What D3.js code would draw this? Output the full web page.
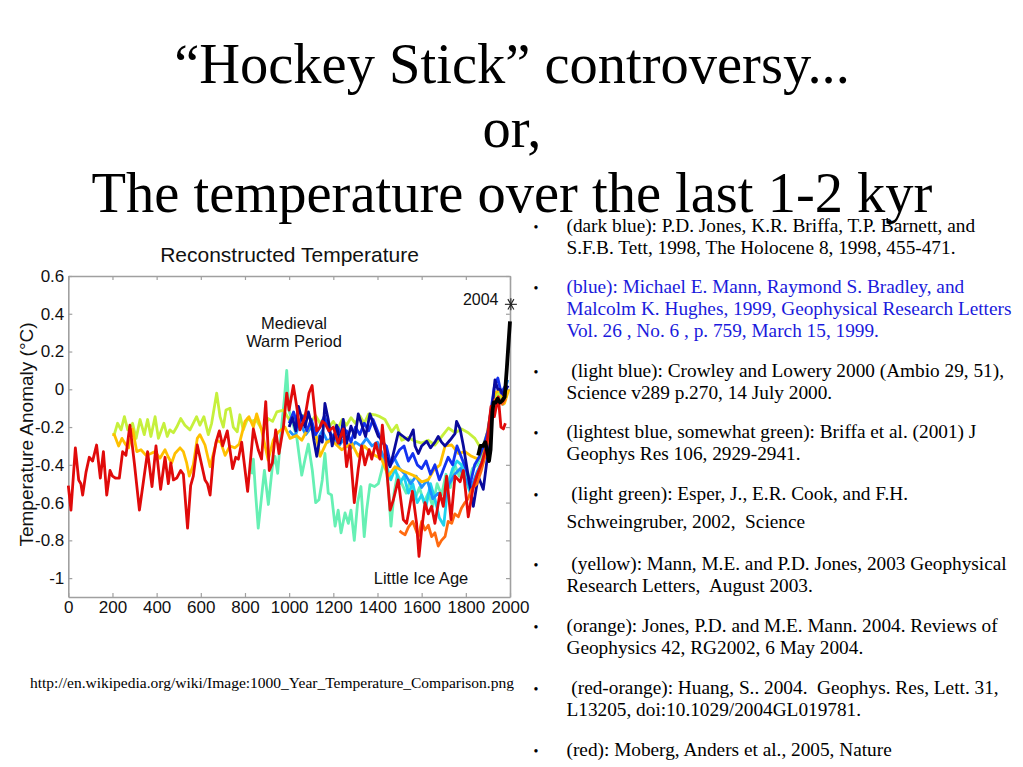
<!DOCTYPE html>
<html>
<head>
<meta charset="utf-8">
<script src="https://cdn.jsdelivr.net/npm/d3@7"></script>
<style>
body { margin: 0; background: #fff; }
svg { display: block; }
</style>
</head>
<body>
<div id="slide"></div>
<script>
//DATA
//Axis ticks
const xTickValues = [0, 200, 400, 600, 800, 1000, 1200, 1400, 1600, 1800, 2000];
const yTickValues = [0.6, 0.4, 0.2, 0, -0.2, -0.4, -0.6, -0.8, -1];

//Reconstructions, [year, anomaly]
const esperLightGreen = [[831,-0.45],[838,-0.37],[848,-0.55],[860,-0.735],[875,-0.57],[888,-0.43],[906,-0.61],[924,-0.41],[936,-0.355],[948,-0.445],[963,-0.23],[978,-0.055],[989,0.10],[999,-0.11],[1014,-0.17],[1034,-0.25],[1057,-0.455],[1072,-0.37],[1087,-0.29],[1105,-0.43],[1120,-0.60],[1135,-0.585],[1150,-0.48],[1162,-0.34],[1177,-0.55],[1192,-0.56],[1208,-0.725],[1222,-0.64],[1235,-0.76],[1253,-0.655],[1268,-0.71],[1280,-0.64],[1295,-0.80],[1310,-0.60],[1325,-0.515],[1340,-0.78],[1351,-0.64],[1366,-0.505],[1386,-0.515],[1404,-0.50],[1419,-0.43],[1434,-0.355],[1449,-0.515],[1461,-0.725],[1475,-0.55],[1490,-0.45],[1510,-0.50],[1530,-0.55],[1550,-0.48],[1570,-0.58],[1590,-0.52],[1610,-0.60],[1630,-0.55],[1650,-0.62],[1670,-0.50],[1690,-0.56],[1710,-0.45],[1730,-0.52],[1750,-0.40],[1770,-0.46],[1790,-0.38],[1810,-0.50],[1830,-0.42],[1850,-0.40],[1870,-0.35],[1890,-0.32],[1910,-0.20],[1930,-0.05],[1950,-0.02],[1970,-0.08],[1992,0.0]];

const briffaLightest = [[1402,-0.30],[1420,-0.35],[1440,-0.40],[1460,-0.48],[1480,-0.42],[1500,-0.50],[1520,-0.46],[1540,-0.55],[1560,-0.50],[1580,-0.60],[1600,-0.56],[1620,-0.62],[1640,-0.50],[1660,-0.58],[1680,-0.68],[1700,-0.72],[1720,-0.50],[1740,-0.42],[1760,-0.38],[1780,-0.40],[1800,-0.48],[1820,-0.55],[1840,-0.48],[1860,-0.42],[1880,-0.36],[1900,-0.28],[1920,-0.10],[1940,-0.02],[1960,-0.06]];

const crowleyLightBlue = [[1000,-0.22],[1025,-0.25],[1050,-0.18],[1075,-0.24],[1100,-0.20],[1125,-0.27],[1150,-0.22],[1175,-0.28],[1200,-0.24],[1225,-0.30],[1250,-0.26],[1275,-0.32],[1300,-0.28],[1325,-0.30],[1350,-0.26],[1375,-0.30],[1400,-0.28],[1425,-0.35],[1450,-0.40],[1475,-0.36],[1500,-0.42],[1525,-0.45],[1550,-0.50],[1575,-0.46],[1600,-0.52],[1625,-0.48],[1650,-0.58],[1675,-0.55],[1700,-0.60],[1725,-0.50],[1750,-0.45],[1775,-0.42],[1800,-0.48],[1825,-0.52],[1850,-0.44],[1875,-0.38],[1900,-0.30],[1925,-0.10],[1950,0.0],[1965,-0.05],[1990,0.05]];

const mannJones2003Yellow = [[200,-0.24],[208,-0.24],[223,-0.18],[239,-0.215],[254,-0.145],[269,-0.215],[291,-0.18],[307,-0.26],[325,-0.16],[344,-0.24],[359,-0.16],[374,-0.25],[393,-0.145],[408,-0.26],[433,-0.18],[448,-0.25],[460,-0.215],[476,-0.23],[491,-0.20],[509,-0.155],[528,-0.19],[551,-0.215],[581,-0.145],[596,-0.19],[614,-0.145],[634,-0.24],[649,-0.18],[672,-0.02],[687,-0.145],[702,-0.20],[714,-0.11],[732,-0.10],[747,-0.20],[765,-0.225],[777,-0.135],[792,-0.215],[812,-0.155],[830,-0.17],[850,-0.16],[883,-0.225],[905,-0.155],[925,-0.17],[944,-0.12],[974,-0.11],[1000,-0.16],[1020,-0.13],[1040,-0.19],[1060,-0.15],[1080,-0.12],[1100,-0.17],[1120,-0.14],[1140,-0.18],[1160,-0.15],[1180,-0.20],[1200,-0.17],[1220,-0.21],[1240,-0.16],[1260,-0.19],[1280,-0.15],[1300,-0.18],[1320,-0.14],[1340,-0.18],[1360,-0.13],[1389,-0.135],[1411,-0.145],[1434,-0.16],[1464,-0.225],[1487,-0.19],[1510,-0.27],[1540,-0.255],[1570,-0.275],[1600,-0.285],[1630,-0.27],[1660,-0.295],[1691,-0.25],[1721,-0.205],[1751,-0.23],[1781,-0.21],[1811,-0.23],[1841,-0.26],[1872,-0.32],[1902,-0.215],[1924,-0.055],[1947,-0.02],[1970,-0.055],[1980,-0.03]];

const jonesMann2004Orange = [[200,-0.24],[208,-0.24],[228,-0.30],[243,-0.26],[258,-0.29],[273,-0.31],[291,-0.21],[310,-0.33],[329,-0.32],[352,-0.35],[374,-0.34],[393,-0.33],[415,-0.365],[438,-0.32],[453,-0.36],[468,-0.39],[483,-0.34],[506,-0.31],[521,-0.33],[536,-0.39],[548,-0.46],[566,-0.40],[584,-0.26],[596,-0.24],[619,-0.295],[642,-0.41],[657,-0.34],[672,-0.27],[690,-0.28],[710,-0.35],[732,-0.30],[755,-0.31],[774,-0.29],[800,-0.17],[818,-0.145],[838,-0.20],[853,-0.13],[875,-0.215],[905,-0.375],[928,-0.27],[951,-0.225],[981,-0.20],[1004,-0.26],[1034,-0.245],[1057,-0.27],[1094,-0.19],[1117,-0.215],[1140,-0.355],[1170,-0.28],[1192,-0.27],[1238,-0.32],[1283,-0.285],[1313,-0.355],[1340,-0.30],[1374,-0.34],[1419,-0.37],[1449,-0.46],[1479,-0.41],[1510,-0.43],[1540,-0.445],[1570,-0.46],[1600,-0.49],[1630,-0.48],[1653,-0.43],[1683,-0.40],[1706,-0.30],[1736,-0.295],[1766,-0.34],[1796,-0.33],[1826,-0.355],[1856,-0.37],[1887,-0.30],[1909,-0.145],[1932,-0.02],[1955,0.0],[1975,-0.075],[1995,0.0]];

const mann1999Blue = [[1000,-0.18],[1020,-0.12],[1040,-0.20],[1060,-0.14],[1080,-0.22],[1100,-0.16],[1120,-0.24],[1140,-0.20],[1160,-0.14],[1180,-0.22],[1200,-0.26],[1220,-0.20],[1240,-0.25],[1260,-0.22],[1280,-0.28],[1300,-0.20],[1320,-0.24],[1340,-0.18],[1360,-0.22],[1380,-0.16],[1400,-0.22],[1420,-0.28],[1440,-0.30],[1460,-0.40],[1480,-0.36],[1500,-0.32],[1520,-0.30],[1540,-0.38],[1560,-0.34],[1580,-0.40],[1600,-0.42],[1620,-0.38],[1640,-0.45],[1660,-0.40],[1680,-0.48],[1700,-0.42],[1720,-0.36],[1740,-0.40],[1760,-0.30],[1780,-0.36],[1800,-0.42],[1820,-0.50],[1840,-0.40],[1860,-0.36],[1880,-0.30],[1900,-0.22],[1915,-0.10],[1930,0.02],[1945,0.06],[1960,-0.02],[1980,0.02]];

const jones1998DarkBlue = [[1000,-0.20],[1015,-0.15],[1030,-0.22],[1042,-0.09],[1057,-0.155],[1072,-0.20],[1087,-0.12],[1100,-0.18],[1112,-0.27],[1125,-0.355],[1140,-0.25],[1150,-0.28],[1162,-0.075],[1177,-0.16],[1195,-0.30],[1215,-0.19],[1230,-0.285],[1245,-0.16],[1260,-0.285],[1280,-0.195],[1298,-0.255],[1313,-0.13],[1331,-0.195],[1346,-0.25],[1366,-0.13],[1381,-0.18],[1404,-0.25],[1426,-0.27],[1442,-0.355],[1457,-0.41],[1472,-0.34],[1494,-0.23],[1517,-0.25],[1540,-0.27],[1562,-0.215],[1570,-0.30],[1585,-0.34],[1600,-0.30],[1623,-0.275],[1640,-0.31],[1660,-0.28],[1675,-0.25],[1690,-0.28],[1706,-0.30],[1728,-0.27],[1751,-0.235],[1758,-0.17],[1774,-0.21],[1789,-0.30],[1811,-0.46],[1834,-0.62],[1856,-0.46],[1879,-0.53],[1902,-0.32],[1920,-0.09],[1932,0.05],[1945,0.0],[1955,0.0],[1970,-0.03],[1991,0.02]];

const huangRedOrange = [[1500,-0.75],[1510,-0.76],[1525,-0.77],[1540,-0.73],[1560,-0.70],[1585,-0.78],[1600,-0.70],[1615,-0.745],[1630,-0.72],[1645,-0.78],[1660,-0.76],[1675,-0.83],[1690,-0.80],[1706,-0.78],[1720,-0.70],[1736,-0.71],[1750,-0.66],[1766,-0.675],[1780,-0.63],[1796,-0.60],[1810,-0.58],[1826,-0.53],[1850,-0.50],[1870,-0.43],[1887,-0.355],[1909,-0.215],[1932,-0.055],[1950,-0.05],[1965,-0.08],[1980,-0.05]];

const mobergRed = [[0,-0.51],[12,-0.64],[32,-0.31],[47,-0.48],[57,-0.50],[65,-0.56],[80,-0.44],[95,-0.36],[110,-0.38],[128,-0.295],[145,-0.47],[159,-0.33],[174,-0.56],[189,-0.43],[200,-0.46],[213,-0.47],[231,-0.47],[246,-0.33],[261,-0.35],[279,-0.19],[299,-0.39],[322,-0.64],[340,-0.49],[359,-0.33],[379,-0.515],[397,-0.30],[418,-0.53],[438,-0.36],[453,-0.50],[464,-0.39],[476,-0.48],[491,-0.47],[509,-0.43],[521,-0.45],[540,-0.735],[554,-0.51],[566,-0.46],[584,-0.295],[600,-0.38],[619,-0.48],[630,-0.50],[642,-0.56],[657,-0.36],[669,-0.28],[684,-0.22],[699,-0.30],[720,-0.22],[732,-0.32],[744,-0.42],[758,-0.36],[770,-0.37],[785,-0.28],[812,-0.54],[838,-0.21],[860,-0.32],[875,-0.37],[894,-0.065],[910,-0.43],[924,-0.39],[939,-0.215],[954,-0.34],[974,-0.20],[989,-0.02],[1000,-0.11],[1019,0.02],[1034,-0.09],[1049,-0.215],[1072,-0.145],[1090,-0.02],[1104,0.02],[1125,-0.22],[1140,-0.20],[1150,-0.17],[1162,-0.18],[1180,-0.22],[1200,-0.20],[1222,-0.285],[1245,-0.21],[1260,-0.41],[1275,-0.30],[1295,-0.60],[1313,-0.42],[1328,-0.30],[1343,-0.40],[1362,-0.32],[1374,-0.37],[1392,-0.285],[1411,-0.37],[1422,-0.19],[1442,-0.43],[1457,-0.64],[1472,-0.585],[1494,-0.48],[1517,-0.69],[1532,-0.71],[1558,-0.54],[1577,-0.71],[1588,-0.885],[1600,-0.745],[1615,-0.60],[1630,-0.66],[1645,-0.62],[1660,-0.71],[1683,-0.55],[1698,-0.62],[1713,-0.46],[1733,-0.69],[1751,-0.46],[1774,-0.49],[1789,-0.43],[1811,-0.675],[1834,-0.515],[1849,-0.46],[1872,-0.39],[1894,-0.30],[1914,-0.09],[1929,-0.145],[1947,-0.04],[1959,-0.20],[1970,-0.21],[1979,-0.18]];

//Instrumental record
const instrumentalBlack = [[1856,-0.35],[1866,-0.30],[1878,-0.30],[1888,-0.28],[1897,-0.33],[1905,-0.38],[1912,-0.32],[1920,-0.12],[1926,-0.07],[1935,-0.07],[1944,-0.05],[1955,-0.07],[1965,-0.06],[1976,-0.04],[1985,0.10],[1993,0.24],[2000,0.36]];

//2004 marker
const marker2004 = [2004, 0.45];

//Draw order (bottom to top) and colours
const seriesList = [
    {data: esperLightGreen, color: "#66f0b4", width: 2.8},
    {data: briffaLightest, color: "#1fd2ee", width: 2.8},
    {data: crowleyLightBlue, color: "#1e90ff", width: 2.8},
    {data: mannJones2003Yellow, color: "#c6f03c", width: 2.8},
    {data: jonesMann2004Orange, color: "#ffc000", width: 2.8},
    {data: mann1999Blue, color: "#1432f0", width: 2.8},
    {data: jones1998DarkBlue, color: "#0a0a9c", width: 2.8},
    {data: huangRedOrange, color: "#ff6a10", width: 2.8},
    {data: mobergRed, color: "#e00a0a", width: 2.8},
    {data: instrumentalBlack, color: "#000000", width: 3.8}
];

//TEXT
const titleLines = ["\u201cHockey Stick\u201d controversy...", "or,", "The temperature over the last 1-2 kyr"];
const chartTitle = "Reconstructed Temperature";
const yAxisLabel = "Temperature Anomaly (\u00b0C)";
const sourceUrl = "http://en.wikipedia.org/wiki/Image:1000_Year_Temperature_Comparison.png";

const citations = [
    {color: "#000", lines: ["(dark blue): P.D. Jones, K.R. Briffa, T.P. Barnett, and", "S.F.B. Tett, 1998, The Holocene 8, 1998, 455-471."]},
    {color: "#1a1adc", lines: ["(blue): Michael E. Mann, Raymond S. Bradley, and", "Malcolm K. Hughes, 1999, Geophysical Research Letters", "Vol. 26 , No. 6 , p. 759, March 15, 1999."]},
    {color: "#000", lines: [" (light blue): Crowley and Lowery 2000 (Ambio 29, 51),", "Science v289 p.270, 14 July 2000."]},
    {color: "#000", lines: ["(lightest blue, somewhat green): Briffa et al. (2001) J", "Geophys Res 106, 2929-2941."]},
    {color: "#000", lines: [" (light green): Esper, J., E.R. Cook, and F.H.", "Schweingruber, 2002,  Science"]},
    {color: "#000", lines: [" (yellow): Mann, M.E. and P.D. Jones, 2003 Geophysical", "Research Letters,  August 2003."]},
    {color: "#000", lines: ["(orange): Jones, P.D. and M.E. Mann. 2004. Reviews of", "Geophysics 42, RG2002, 6 May 2004."]},
    {color: "#000", lines: [" (red-orange): Huang, S.. 2004.  Geophys. Res, Lett. 31,", "L13205, doi:10.1029/2004GL019781."]},
    {color: "#000", lines: ["(red): Moberg, Anders et al., 2005, Nature"]}
];

//LAYOUT
const w = 1023;
const h = 767;
const plot = {left: 68.3, right: 510, top: 276, bottom: 597};
const sans = "'Liberation Sans', Arial, sans-serif";
const serif = "'Liberation Serif', 'Times New Roman', serif";

function init() {
    let svg = d3.select("#slide")
        .append("svg")
        .attr("width", w)
        .attr("height", h)
        .style("background-color", "white");

    drawTitle(svg);
    drawChart(svg);
    drawCitations(svg);
}

//Slide heading
function drawTitle(svg) {
    const baselines = [83, 147, 212];
    svg.append("g")
        .selectAll("text")
        .data(titleLines)
        .enter()
        .append("text")
        .attr("x", 512)
        .attr("y", (d, i) => baselines[i])
        .attr("text-anchor", "middle")
        .style("font-family", serif)
        .style("font-size", "56.5px")
        .text(d => d);
}

function drawChart(svg) {
    //Scales
    let x = d3.scaleLinear().domain([0, 2000]).range([plot.left, plot.right]);
    let y = d3.scaleLinear().domain([-1.1, 0.6]).range([plot.bottom, plot.top]);

    let chart = svg.append("g").attr("class", "chart");

    //Frame with inward ticks on all four sides
    const fmtY = d => d === 0 ? "0" : String(+d.toFixed(1));
    const fmtX = d => String(d);
    let axes = [
        {axis: d3.axisLeft(y).tickValues(yTickValues).tickFormat(fmtY), tr: [plot.left, 0]},
        {axis: d3.axisRight(y).tickValues(yTickValues).tickFormat(""), tr: [plot.right, 0]},
        {axis: d3.axisBottom(x).tickValues(xTickValues).tickFormat(fmtX), tr: [0, plot.bottom]},
        {axis: d3.axisTop(x).tickValues(xTickValues).tickFormat(""), tr: [0, plot.top]}
    ];
    axes.forEach(a => {
        let g = chart.append("g")
            .attr("transform", "translate(" + a.tr + ")")
            .call(a.axis.tickSize(-4).tickSizeOuter(0).tickPadding(4));
        g.select(".domain").attr("stroke", "#a0a0a0").attr("stroke-width", 1.6);
        g.selectAll(".tick line").attr("stroke", "#a0a0a0").attr("stroke-width", 1.2);
        g.selectAll(".tick text")
            .attr("fill", "#111")
            .style("font-family", sans)
            .style("font-size", "17px");
    });

    //Reconstruction lines
    let line = d3.line()
        .x(d => x(d[0]))
        .y(d => y(d[1]));

    chart.append("g")
        .selectAll("path")
        .data(seriesList)
        .enter()
        .append("path")
        .attr("d", d => line(d.data))
        .attr("fill", "none")
        .attr("stroke", d => d.color)
        .attr("stroke-width", d => d.width)
        .attr("stroke-linejoin", "round");

    //2004 asterisk
    let mx = x(marker2004[0]);
    let my = y(marker2004[1]);
    let star = chart.append("g").attr("stroke", "#222").attr("stroke-width", 1.1);
    [0, 60, 120].forEach(a => {
        let r = a * Math.PI / 180;
        star.append("line")
            .attr("x1", mx - 6 * Math.cos(r)).attr("y1", my - 6 * Math.sin(r))
            .attr("x2", mx + 6 * Math.cos(r)).attr("y2", my + 6 * Math.sin(r));
    });
    star.append("line")
        .attr("x1", mx).attr("y1", my - 6)
        .attr("x2", mx).attr("y2", my + 6);

    //Chart labels
    const labels = [
        {t: chartTitle, x: 289.5, y: 262, size: 21, anchor: "middle"},
        {t: "Medieval", x: 294, y: 329, size: 16.5, anchor: "middle"},
        {t: "Warm Period", x: 294, y: 347, size: 16.5, anchor: "middle"},
        {t: "Little Ice Age", x: 421, y: 584, size: 16.5, anchor: "middle"},
        {t: "2004", x: 498.5, y: 305, size: 16, anchor: "end"}
    ];
    chart.append("g")
        .selectAll("text")
        .data(labels)
        .enter()
        .append("text")
        .attr("x", d => d.x)
        .attr("y", d => d.y)
        .attr("text-anchor", d => d.anchor)
        .attr("fill", "#111")
        .style("font-family", sans)
        .style("font-size", d => d.size + "px")
        .text(d => d.t);

    //Y axis title
    chart.append("text")
        .attr("transform", "translate(32.5,434.5) rotate(-90)")
        .attr("text-anchor", "middle")
        .attr("fill", "#111")
        .style("font-family", sans)
        .style("font-size", "19px")
        .text(yAxisLabel);

    //Image source
    svg.append("text")
        .attr("x", 30)
        .attr("y", 688)
        .style("font-family", serif)
        .style("font-size", "15.5px")
        .text(sourceUrl);
}

//Reference list on the right
function drawCitations(svg) {
    const firstBaselines = [232, 293, 377, 438, 500, 570, 632, 694, 756];
    let g = svg.append("g")
        .style("font-family", serif)
        .style("font-size", "19.3px");

    citations.forEach((c, i) => {
        const step = i === 4 ? 28 : 22;
        g.append("text")
            .attr("x", 533.5)
            .attr("y", firstBaselines[i])
            .style("font-size", "14px")
            .text("\u2022");
        c.lines.forEach((l, j) => {
            g.append("text")
                .attr("x", 566.5)
                .attr("y", firstBaselines[i] + j * step)
                .attr("fill", c.color)
                .style("white-space", "pre")
                .text(l);
        });
    });
}

window.onload = init;
</script>
</body>
</html>
